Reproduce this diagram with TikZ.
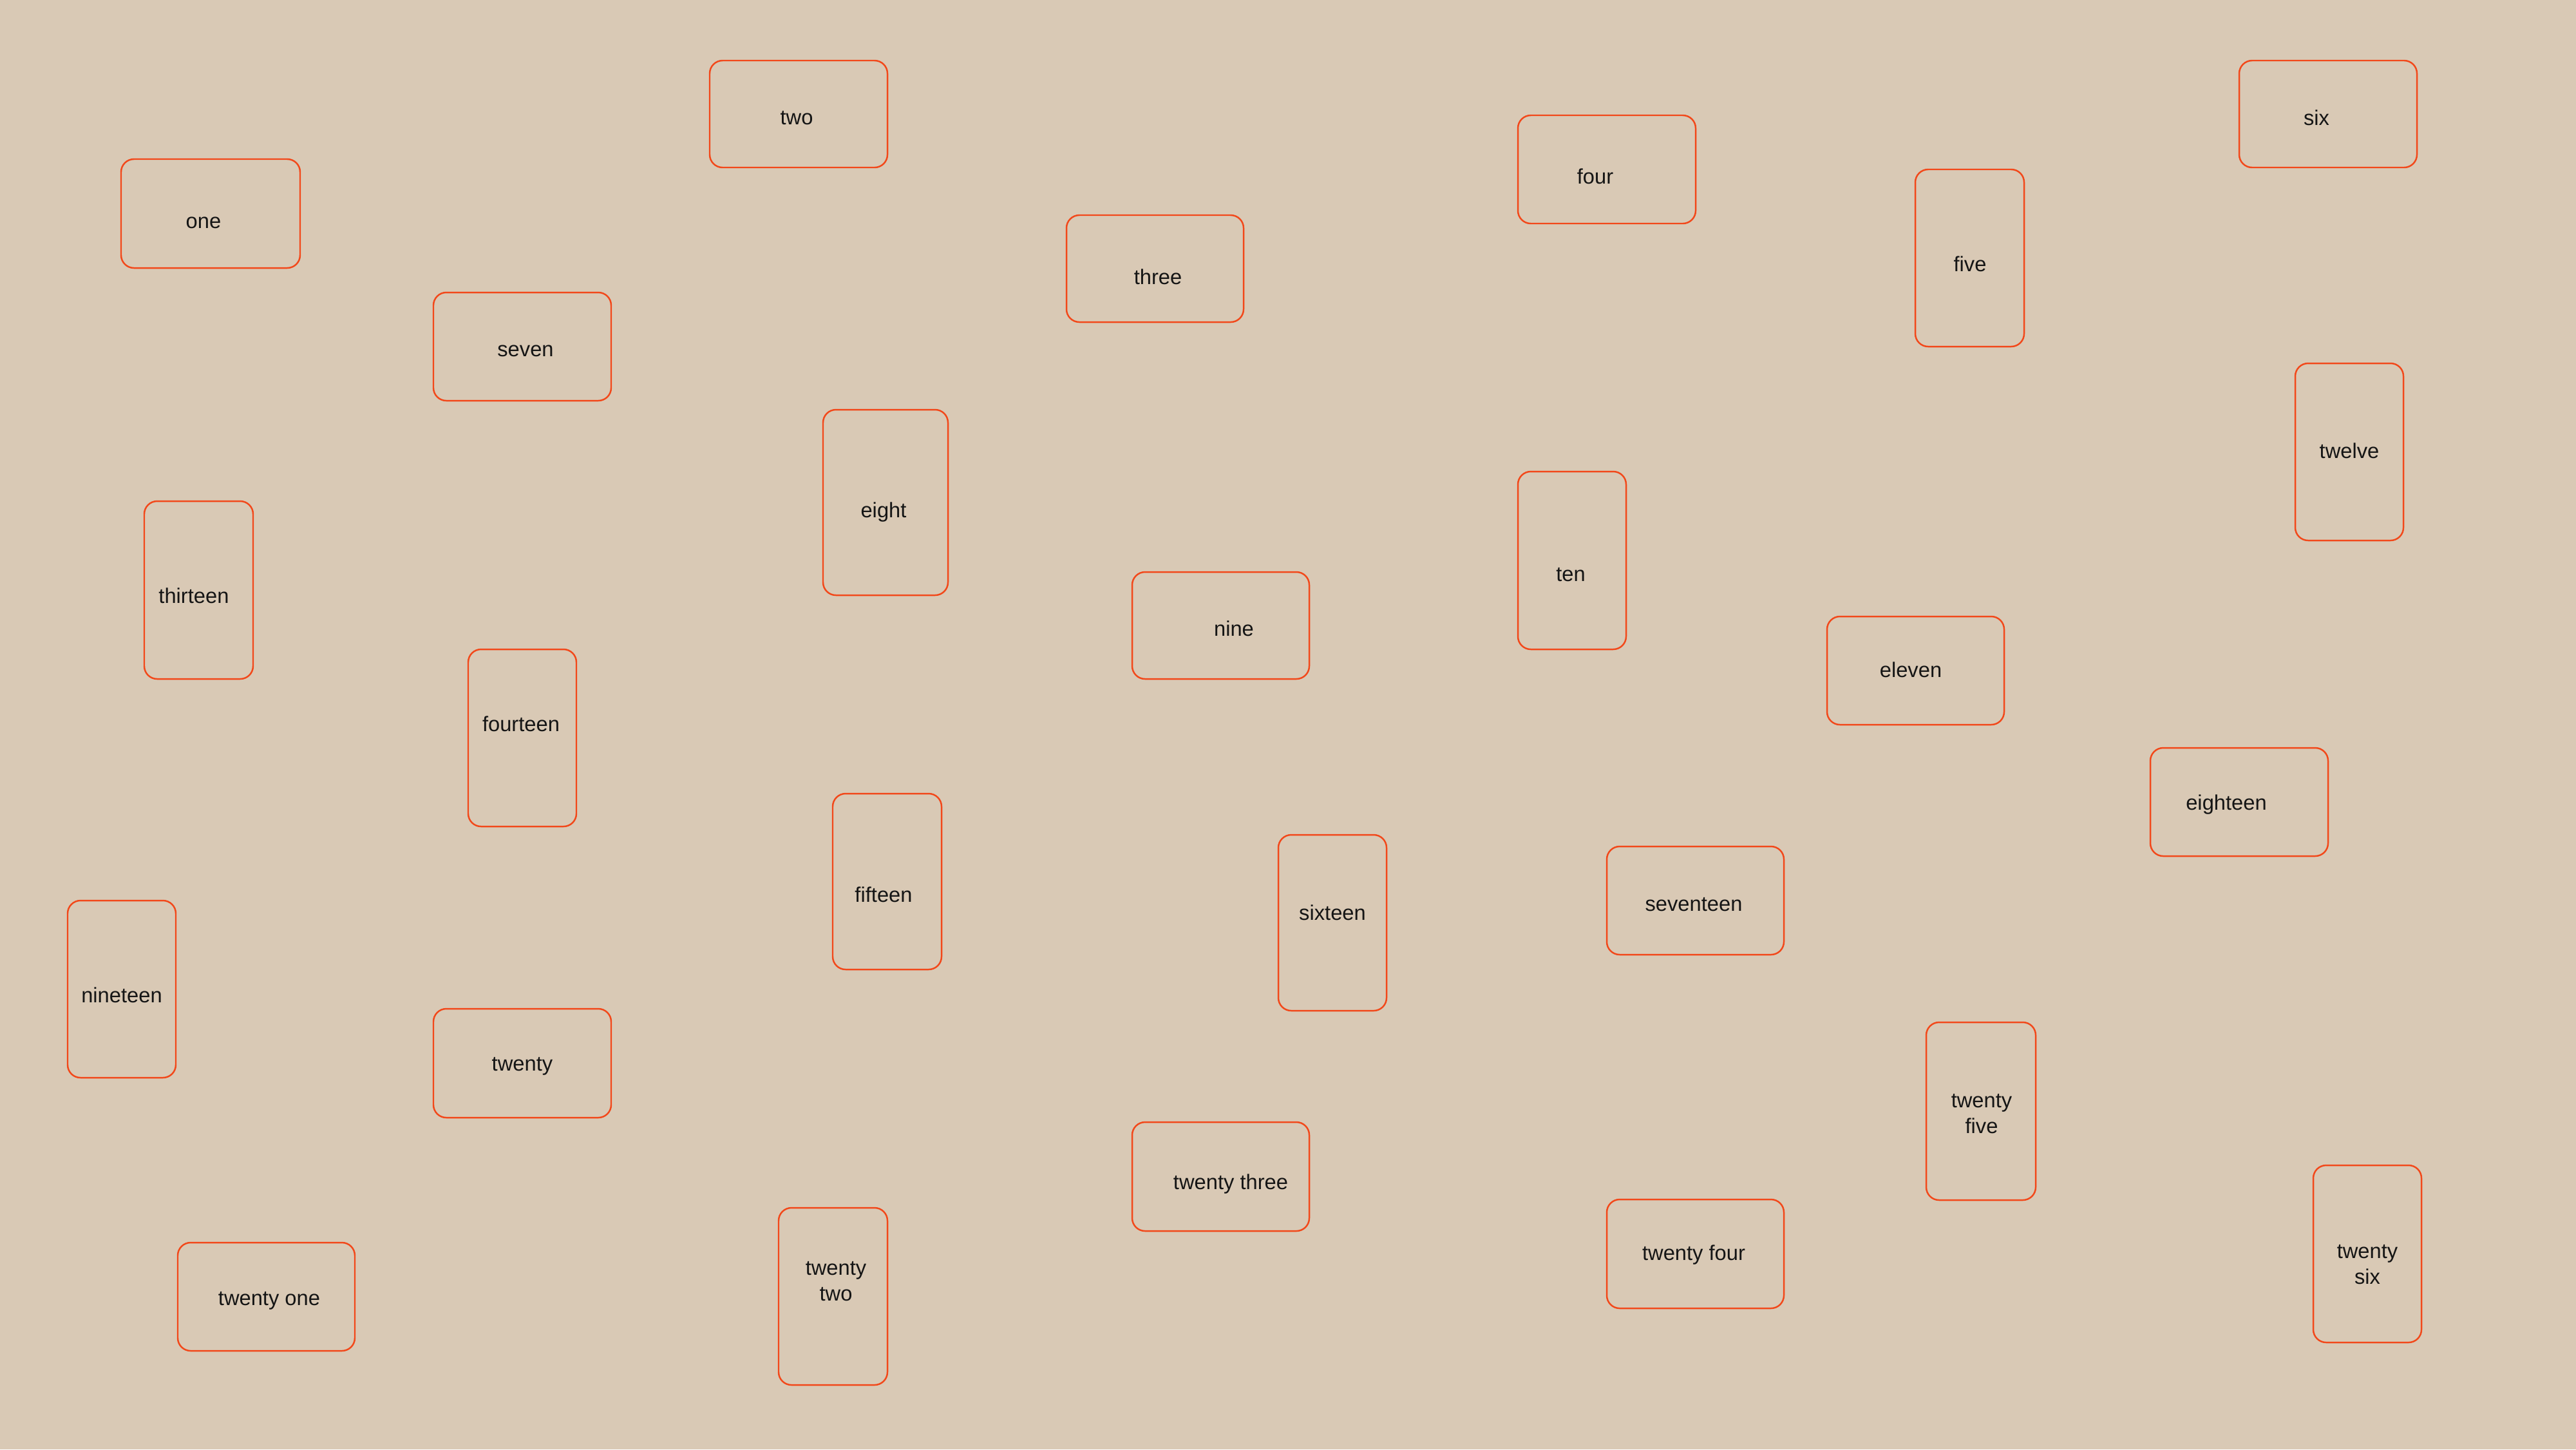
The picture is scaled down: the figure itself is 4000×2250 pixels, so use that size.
\documentclass[tikz,border=0pt]{standalone}
\usepackage{fontspec}
\setmainfont{Liberation Sans}
\definecolor{bg}{HTML}{D9C9B5}
\definecolor{edge}{HTML}{F2481A}
\definecolor{ink}{HTML}{151515}
\tikzset{
  card/.style={draw=edge, line width=0.7pt, rounded corners=0.2cm, inner sep=0pt},
  lbl/.style={text=ink, font=\fontsize{9.3pt}{11.2pt}\selectfont, align=center, inner sep=0pt, yshift=-1.1pt}
}
% \mycard{name}{x1}{y1}{x2}{y2}{tx}{ty}{text}
\newcommand{\mycard}[8]{%
  \node[card, minimum width={(#4-#2)*0.01cm}, minimum height={(#5-#3)*0.01cm}] (#1) at ({(#2+#4)/2},{(#3+#5)/2}) {};
  \node[lbl] (#1-t) at (#6,#7) {#8};
}
\begin{document}
\begin{tikzpicture}[x=0.01cm,y=-0.01cm]
\fill[bg] (0,0) rectangle (4000,2250);
\useasboundingbox (0,0) rectangle (4000,2250);
\mycard{n1}{188}{247}{466}{416}{316}{342}{one}
\mycard{n2}{1102}{94}{1378}{260}{1237}{179}{two}
\mycard{n3}{1656}{334}{1931}{500}{1798}{426}{three}
\mycard{n4}{2357}{179}{2633}{347}{2477}{270}{four}
\mycard{n5}{2974}{263}{3143}{538}{3059}{406}{five}
\mycard{n6}{3477}{94}{3753}{260}{3597}{179}{six}
\mycard{n7}{673}{454}{949}{622}{816}{541}{seven}
\mycard{n8}{1278}{636}{1472}{924}{1372}{791}{eight}
\mycard{n9}{1758}{888}{2033}{1054}{1916}{972}{nine}
\mycard{n10}{2357}{732}{2525}{1008}{2439}{888}{ten}
\mycard{n11}{2837}{957}{3112}{1125}{2967}{1036}{eleven}
\mycard{n12}{3564}{564}{3732}{839}{3648}{696}{twelve}
\mycard{n13}{224}{778}{393}{1054}{301}{921}{thirteen}
\mycard{n14}{727}{1008}{895}{1283}{809}{1120}{fourteen}
\mycard{n15}{1293}{1232}{1462}{1505}{1372}{1385}{fifteen}
\mycard{n16}{1985}{1296}{2153}{1569}{2069}{1413}{sixteen}
\mycard{n17}{2495}{1314}{2770}{1482}{2630}{1400}{seventeen}
\mycard{n18}{3339}{1161}{3615}{1329}{3457}{1245}{eighteen}
\mycard{n19}{105}{1398}{273}{1673}{189}{1541}{nineteen}
\mycard{n20}{673}{1566}{949}{1735}{811}{1651}{twenty}
\mycard{n21}{276}{1929}{551}{2097}{418}{2015}{twenty one}
\mycard{n22}{1209}{1875}{1378}{2150}{1298}{1985}{twenty\\two}
\mycard{n23}{1758}{1742}{2033}{1911}{1911}{1834}{twenty three}
\mycard{n24}{2495}{1862}{2770}{2031}{2630}{1944}{twenty four}
\mycard{n25}{2991}{1587}{3161}{1863}{3077}{1725}{twenty\\five}
\mycard{n26}{3592}{1809}{3760}{2084}{3676}{1959}{twenty\\six}
\end{tikzpicture}
\end{document}
